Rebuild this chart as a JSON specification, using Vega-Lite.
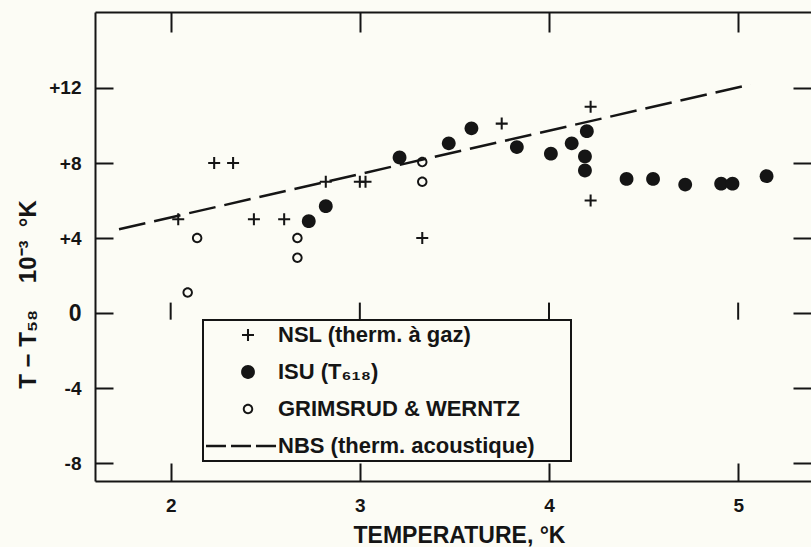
{
  "$schema": "https://vega.github.io/schema/vega-lite/v6.json",
  "width": 716,
  "height": 469,
  "autosize": {"type": "none"},
  "padding": {"left": 95, "top": 12, "right": 0, "bottom": 66},
  "background": "#fcfcf5",
  "config": {
    "view": {"stroke": null},
    "font": "Liberation Sans",
    "axis": {
      "grid": false,
      "domainColor": "#151515",
      "domainWidth": 2,
      "tickColor": "#151515",
      "tickWidth": 2,
      "labelColor": "#151515",
      "titleColor": "#151515",
      "labelFont": "Liberation Sans",
      "titleFont": "Liberation Sans",
      "labelFontWeight": "bold",
      "titleFontWeight": "bold"
    },
    "legend": {"strokeWidth": 2}
  },
  "resolve": {"axis": {"x": "independent", "y": "independent"}},
  "layer": [
    {
      "mark": {"type": "rule", "strokeWidth": 2, "color": "#151515"},
      "encoding": {"y": {"datum": 0, "type": "quantitative", "axis": null}}
    },
    {
      "data": {"values": [{"t": 2}, {"t": 3}, {"t": 4}, {"t": 5}]},
      "mark": {"type": "rule", "strokeWidth": 2, "color": "#151515"},
      "encoding": {
        "x": {"field": "t", "type": "quantitative", "axis": null},
        "y": {"datum": -0.35, "type": "quantitative", "axis": null},
        "y2": {"datum": 0.56}
      }
    },
    {
      "data": {"values": [
        {"series": "NBS (therm. acoustique)", "t": 1.727, "d": 4.47},
        {"series": "NBS (therm. acoustique)", "t": 5.066, "d": 12.19}
      ]},
      "mark": {"type": "line", "strokeDash": [27, 9], "strokeWidth": 2.5, "color": "#151515"},
      "encoding": {
        "x": {"field": "t", "type": "quantitative",
          "axis": {"orient": "top", "values": [2, 3, 4, 5], "tickSize": -20, "labels": false, "title": null, "domain": true}},
        "y": {"field": "d", "type": "quantitative",
          "axis": {"orient": "right", "values": [-8, -4, 0, 4, 8, 12], "tickSize": -18, "labels": false, "title": null, "domain": false}}
      }
    },
    {
      "data": {"values": [
        {"series": "NSL (therm. à gaz)", "t": 2.04, "d": 5.0},
        {"series": "NSL (therm. à gaz)", "t": 2.23, "d": 8.0},
        {"series": "NSL (therm. à gaz)", "t": 2.33, "d": 8.0},
        {"series": "NSL (therm. à gaz)", "t": 2.44, "d": 5.0},
        {"series": "NSL (therm. à gaz)", "t": 2.6, "d": 5.0},
        {"series": "NSL (therm. à gaz)", "t": 2.82, "d": 7.0},
        {"series": "NSL (therm. à gaz)", "t": 3.0, "d": 7.0},
        {"series": "NSL (therm. à gaz)", "t": 3.03, "d": 7.0},
        {"series": "NSL (therm. à gaz)", "t": 3.33, "d": 4.0},
        {"series": "NSL (therm. à gaz)", "t": 3.75, "d": 10.1},
        {"series": "NSL (therm. à gaz)", "t": 4.22, "d": 11.0},
        {"series": "NSL (therm. à gaz)", "t": 4.22, "d": 6.0},
        {"series": "ISU (T₆₁₈)", "t": 2.73, "d": 4.9},
        {"series": "ISU (T₆₁₈)", "t": 2.82, "d": 5.7},
        {"series": "ISU (T₆₁₈)", "t": 3.21, "d": 8.3},
        {"series": "ISU (T₆₁₈)", "t": 3.47, "d": 9.05},
        {"series": "ISU (T₆₁₈)", "t": 3.59, "d": 9.85},
        {"series": "ISU (T₆₁₈)", "t": 3.83, "d": 8.85},
        {"series": "ISU (T₆₁₈)", "t": 4.01, "d": 8.5},
        {"series": "ISU (T₆₁₈)", "t": 4.12, "d": 9.05},
        {"series": "ISU (T₆₁₈)", "t": 4.2, "d": 9.7},
        {"series": "ISU (T₆₁₈)", "t": 4.19, "d": 8.35},
        {"series": "ISU (T₆₁₈)", "t": 4.19, "d": 7.6},
        {"series": "ISU (T₆₁₈)", "t": 4.41, "d": 7.15},
        {"series": "ISU (T₆₁₈)", "t": 4.55, "d": 7.15},
        {"series": "ISU (T₆₁₈)", "t": 4.72, "d": 6.85},
        {"series": "ISU (T₆₁₈)", "t": 4.91, "d": 6.9},
        {"series": "ISU (T₆₁₈)", "t": 4.97, "d": 6.9},
        {"series": "ISU (T₆₁₈)", "t": 5.15, "d": 7.3},
        {"series": "GRIMSRUD & WERNTZ", "t": 2.09, "d": 1.1},
        {"series": "GRIMSRUD & WERNTZ", "t": 2.14, "d": 4.0},
        {"series": "GRIMSRUD & WERNTZ", "t": 2.67, "d": 4.0},
        {"series": "GRIMSRUD & WERNTZ", "t": 2.67, "d": 2.95},
        {"series": "GRIMSRUD & WERNTZ", "t": 3.33, "d": 8.05},
        {"series": "GRIMSRUD & WERNTZ", "t": 3.33, "d": 7.0}
      ]},
      "mark": {"type": "point", "size": 144, "filled": true, "strokeWidth": 0, "opacity": 1, "color": "#151515"},
      "encoding": {
        "x": {"field": "t", "type": "quantitative",
          "scale": {"domain": [1.6, 5.385], "nice": false, "zero": false},
          "axis": {"orient": "bottom", "values": [2, 3, 4, 5], "format": "d", "tickSize": -18, "labelPadding": 33, "labelFontSize": 19,
            "title": "TEMPERATURE, °K", "titleFontSize": 23, "titleX": 364, "titleY": 61, "titleAlign": "center", "titleBaseline": "alphabetic", "domain": true}},
        "y": {"field": "d", "type": "quantitative",
          "scale": {"domain": [-8.95, 16.05], "nice": false, "zero": false},
          "axis": {"orient": "left", "values": [-8, -4, 0, 4, 8, 12], "tickSize": -18, "labelPadding": 32,
            "labelFontSize": {"condition": {"test": "datum.value === 0", "value": 23}, "value": 19},
            "labelExpr": "datum.value > 0 ? '+' + datum.value : '' + datum.value",
            "title": "T − T₅₈\u00a0\u00a0\u00a0\u00a010⁻³\u00a0\u00a0°K", "titleFontSize": 24, "titleX": -67, "titleY": 282, "titleAlign": "center", "titleBaseline": "middle", "domain": true}},
        "shape": {"field": "series", "type": "nominal",
          "scale": {"domain": ["NSL (therm. à gaz)", "ISU (T₆₁₈)", "GRIMSRUD & WERNTZ", "NBS (therm. acoustique)"],
            "range": [
              "M-1,-0.17H-0.17V-1H0.17V-0.17H1V0.17H0.17V1H-0.17V0.17H-1Z",
              "M1.15,0A1.15,1.15,0,1,1,-1.15,0A1.15,1.15,0,1,1,1.15,0Z",
              "M0.87,0A0.87,0.87,0,1,1,-0.87,0A0.87,0.87,0,1,1,0.87,0ZM0.55,0A0.55,0.55,0,1,0,-0.55,0A0.55,0.55,0,1,0,0.55,0Z",
              "M-7,-0.2H-3.67V0.2H-7ZM-2.83,-0.2H0.5V0.2H-2.83ZM1.33,-0.2H4.67V0.2H1.33Z"
            ]},
          "legend": {"orient": "none", "legendX": 108, "legendY": 308, "title": null, "padding": 4,
            "strokeColor": "#151515", "fillColor": "#fcfcf5",
            "labelFontSize": 22, "labelFont": "Liberation Sans", "labelFontWeight": "bold", "labelColor": "#151515", "labelLimit": 600,
            "labelExpr": "indexof(datum.label, 'NBS') === 0 ? datum.label + '\u2800\u2800' : datum.label",
            "symbolSize": 144, "symbolStrokeWidth": 0, "symbolFillColor": "#151515", "symbolOffset": 30, "labelOffset": 19, "rowPadding": 15}}
      }
    }
  ]
}
